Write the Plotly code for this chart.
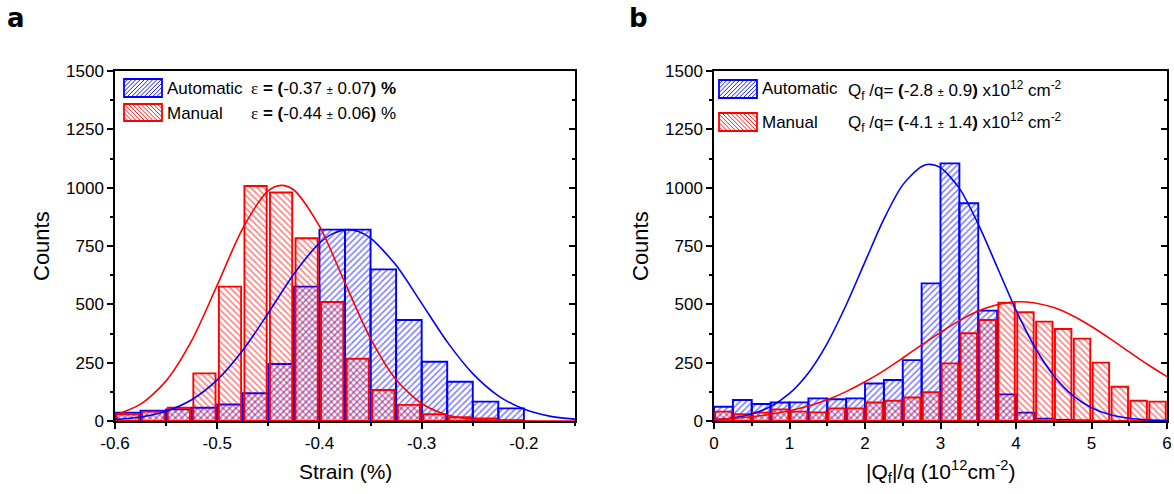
import plotly.graph_objects as go

# ---------------- data ----------------
# panel a : strain histograms (bin width 0.025 %)
strain_centers = [-0.5875, -0.5625, -0.5375, -0.5125, -0.4875, -0.4625, -0.4375, -0.4125,
                  -0.3875, -0.3625, -0.3375, -0.3125, -0.2875, -0.2625, -0.2375, -0.2125]
strain_auto = [36, 44, 50, 57, 71, 119, 244, 576, 820, 820, 650, 433, 254, 168, 83, 54]
strain_manual = [29, 40, 57, 204, 576, 1007, 979, 783, 510, 267, 133, 69, 29, 16, 11, 4]

# gaussian fit curves
strain_fit_auto_x = [-0.6, -0.575, -0.55, -0.525, -0.5, -0.475, -0.45, -0.425, -0.4, -0.3875,
                     -0.372, -0.3625, -0.35, -0.325, -0.3, -0.275, -0.25, -0.225, -0.2, -0.175, -0.15]
strain_fit_auto_y = [6, 17, 42, 91, 176, 303, 463, 630, 762, 802,
                     820, 813, 784, 667, 504, 339, 203, 108, 51, 21, 8]
strain_fit_manual_x = [-0.6, -0.575, -0.55, -0.525, -0.5, -0.475, -0.45, -0.4375, -0.425, -0.4,
                       -0.375, -0.35, -0.325, -0.3, -0.275, -0.25, -0.225, -0.2, -0.175, -0.15]
strain_fit_manual_y = [25, 72, 172, 344, 582, 826, 987, 1010, 990, 835,
                       592, 353, 177, 75, 26, 8, 2, 0.4, 0, 0]

# panel b : fixed charge histograms (bin width 0.25 x10^12 cm^-2)
q_centers = [0.125, 0.375, 0.625, 0.875, 1.125, 1.375, 1.625, 1.875, 2.125, 2.375, 2.625, 2.875,
             3.125, 3.375, 3.625, 3.875, 4.125, 4.375, 4.625, 4.875, 5.125, 5.375, 5.625, 5.875]
q_auto = [61, 90, 73, 79, 80, 97, 93, 97, 161, 176, 261, 590,
          1104, 933, 473, 114, 36, 10, 5, 3, None, None, None, None]
q_manual = [40, 29, 36, 50, 40, 37, 54, 54, 79, 87, 101, 123,
            247, 376, 433, 507, 466, 426, 394, 353, 250, 147, 87, 83]

q_fit_auto_x = [0, 0.25, 0.5, 0.75, 1.0, 1.25, 1.5, 1.75, 2.0, 2.25, 2.5, 2.75, 2.86,
                3.0, 3.25, 3.5, 3.75, 4.0, 4.25, 4.5, 4.75, 5.0, 5.25, 5.5, 5.75, 6.0]
q_fit_auto_y = [6, 13, 30, 62, 118, 206, 333, 497, 682, 865, 1012, 1091, 1100,
                1086, 997, 844, 660, 475, 316, 194, 110, 57, 27, 12, 5, 2]
q_fit_manual_x = [0, 0.25, 0.5, 0.75, 1.0, 1.25, 1.5, 1.75, 2.0, 2.25, 2.5, 2.75, 3.0,
                  3.25, 3.5, 3.75, 4.0, 4.25, 4.5, 4.75, 5.0, 5.25, 5.5, 5.75, 6.0]
q_fit_manual_y = [7, 11, 18, 29, 44, 64, 91, 126, 168, 216, 270, 326, 380,
                  430, 471, 498, 511, 506, 486, 451, 405, 352, 296, 241, 190]

strain_tickvals = [-0.6, -0.5, -0.4, -0.3, -0.2]
strain_ticktext = ["-0.6", "-0.5", "-0.4", "-0.3", "-0.2"]
q_tickvals = [0, 1, 2, 3, 4, 5, 6]
count_tickvals = [0, 250, 500, 750, 1000, 1250, 1500]

# ---------------- style ----------------
W, H = 1174, 494
FONT = "Liberation Sans, Arial, sans-serif"
BLUE = "#0000ff"
RED = "#ff0000"
CLEAR = "rgba(0,0,0,0)"
BIN_L = 0.025
BIN_R = 0.25
RED_FRAC = 0.87


def fx(p):
    return p / W


def fy(p):
    return 1 - p / H


def bar(x, y, width, color, shape, xa, ya):
    return go.Bar(
        x=x, y=y, width=width, xaxis=xa, yaxis=ya, showlegend=False, hoverinfo="skip",
        marker=dict(color=CLEAR, line=dict(color=color, width=1.9),
                    pattern=dict(shape=shape, fgcolor=color, bgcolor=CLEAR,
                                 size=4.5, solidity=0.35, fillmode="overlay")))


def curve(x, y, color, xa, ya):
    return go.Scatter(x=x, y=y, mode="lines", xaxis=xa, yaxis=ya, showlegend=False,
                      hoverinfo="skip", line=dict(color=color, width=1.6, shape="spline", smoothing=0.8))


fig = go.Figure()
fig.add_trace(bar(strain_centers, strain_auto, BIN_L, BLUE, "/", "x", "y"))
fig.add_trace(bar(strain_centers, strain_manual, BIN_L * RED_FRAC, RED, "\\", "x", "y"))
fig.add_trace(curve(strain_fit_auto_x, strain_fit_auto_y, BLUE, "x", "y"))
fig.add_trace(curve(strain_fit_manual_x, strain_fit_manual_y, RED, "x", "y"))

fig.add_trace(bar(q_centers, q_auto, BIN_R, BLUE, "/", "x2", "y2"))
fig.add_trace(bar(q_centers, q_manual, BIN_R * RED_FRAC, RED, "\\", "x2", "y2"))
fig.add_trace(curve(q_fit_auto_x, q_fit_auto_y, BLUE, "x2", "y2"))
fig.add_trace(curve(q_fit_manual_x, q_fit_manual_y, RED, "x2", "y2"))

# dummy traces so that the right-hand tick axes are drawn
fig.add_trace(go.Scatter(x=[None], y=[None], xaxis="x", yaxis="y3", showlegend=False, hoverinfo="skip"))
fig.add_trace(go.Scatter(x=[None], y=[None], xaxis="x2", yaxis="y4", showlegend=False, hoverinfo="skip"))

tickfont = dict(family=FONT, size=17, color="black")
common_x = dict(showgrid=False, zeroline=False, showline=True, linecolor="black", linewidth=1.5,
                mirror=True, ticks="outside", ticklen=6, tickwidth=1.5, tickcolor="black",
                tickfont=tickfont, automargin=False)
common_y = dict(showgrid=False, zeroline=False, showline=True, linecolor="black", linewidth=1.5,
                mirror=True, ticks="outside", ticklen=6, tickwidth=1.5, tickcolor="black",
                tickfont=tickfont, range=[0, 1500], tickmode="array", tickvals=count_tickvals,
                automargin=False,
                minor=dict(tickmode="linear", tick0=0, dtick=125, ticks="outside", ticklen=3,
                           tickwidth=1.5, tickcolor="black"))
right_y = dict(showgrid=False, zeroline=False, showline=False, side="right", range=[0, 1500],
               ticks="inside", ticklen=6, tickwidth=1.5, tickcolor="black", showticklabels=False,
               tickmode="array", tickvals=count_tickvals, automargin=False,
               minor=dict(tickmode="linear", tick0=0, dtick=125, ticks="inside", ticklen=3,
                          tickwidth=1.5, tickcolor="black"))

Y0, Y1 = fy(421), fy(71)
fig.update_layout(
    template="none",
    width=W, height=H, margin=dict(l=0, r=0, t=0, b=0, pad=0, autoexpand=False),
    paper_bgcolor="white", plot_bgcolor="white", barmode="overlay", showlegend=False,
    xaxis=dict(domain=[fx(115), fx(575)], range=[-0.6, -0.15], tickmode="array",
               tickvals=strain_tickvals, ticktext=strain_ticktext,
               minor=dict(tickmode="linear", tick0=-0.6, dtick=0.05, ticks="outside", ticklen=3,
                          tickwidth=1.5, tickcolor="black"),
               anchor="y", **common_x),
    yaxis=dict(domain=[Y0, Y1], anchor="x", **common_y),
    xaxis2=dict(domain=[fx(714), fx(1167)], range=[0, 6], tickmode="array", tickvals=q_tickvals,
                minor=dict(tickmode="linear", tick0=0, dtick=0.5, ticks="outside", ticklen=3,
                           tickwidth=1.5, tickcolor="black"),
                anchor="y2", **common_x),
    yaxis2=dict(domain=[Y0, Y1], anchor="x2", **common_y),
    yaxis3=dict(overlaying="y", anchor="x", **right_y),
    yaxis4=dict(overlaying="y2", anchor="x2", **right_y),
)

# ---------------- legend swatches (hatched boxes) ----------------
shapes = []


def swatch(x0, y0, x1, y1, color, direction, step=4.2):
    h = y1 - y0
    segs = []
    x = x0 - h
    while x < x1:
        t0 = max(0, x0 - x)
        t1 = min(h, x1 - x)
        if t1 > t0:
            if direction == "/":
                a = (x + t0, y1 - t0)
                b = (x + t1, y1 - t1)
            else:
                a = (x + t0, y0 + t0)
                b = (x + t1, y0 + t1)
            segs.append("M%.5f,%.5f L%.5f,%.5f" % (fx(a[0]), fy(a[1]), fx(b[0]), fy(b[1])))
        x += step
    shapes.append(dict(type="path", xref="paper", yref="paper", path=" ".join(segs),
                       line=dict(color=color, width=0.9)))
    shapes.append(dict(type="rect", xref="paper", yref="paper", x0=fx(x0), x1=fx(x1),
                       y0=fy(y1), y1=fy(y0), line=dict(color=color, width=1.8),
                       fillcolor=CLEAR))


swatch(124, 79, 162, 97, BLUE, "/")
swatch(124, 104, 162, 121, RED, "\\")
swatch(719, 80, 757, 98, BLUE, "/")
swatch(719, 113, 757, 131, RED, "\\")
fig.update_layout(shapes=shapes)

ann = []


def text(x, y, s, size=17, xanchor="left", angle=0, family=FONT):
    ann.append(dict(x=fx(x), y=fy(y), xref="paper", yref="paper", text=s, showarrow=False,
                    xanchor=xanchor, yanchor="middle", textangle=angle,
                    font=dict(family=family, size=size, color="black")))


PM = "<span style='font-size:11px'>±</span>"
EPS = "<span style='font-family:Liberation Serif, Times New Roman, serif'>ε</span>"
text(165, 88, "Automatic")
text(165, 113, "Manual")
text(249, 88, EPS + " <b>=</b> <b>(</b>-0.37 " + PM + " 0.07<b>)</b> <b>%</b>")
text(249, 113, EPS + " <b>=</b> <b>(</b>-0.44 " + PM + " 0.06<b>)</b> %")

text(760, 89, "Automatic")
text(760, 122, "Manual")
text(846, 90, "Q<sub>f</sub> /q= <b>(</b>-2.8 " + PM + " 0.9<b>)</b> x10<sup>12</sup> cm<sup>-2</sup>")
text(846, 123, "Q<sub>f</sub> /q= <b>(</b>-4.1 " + PM + " 1.4<b>)</b> x10<sup>12</sup> cm<sup>-2</sup>")

# axis titles
text(345, 471, "Strain (%)", size=21, xanchor="center")
text(940, 471, "|Q<sub>f</sub>|/q (10<sup>12</sup>cm<sup>-2</sup>)", size=21, xanchor="center")
text(42, 246, "Counts", size=22, xanchor="center", angle=-90)
text(641, 246, "Counts", size=22, xanchor="center", angle=-90)

# panel letters
text(5, 18, "<b>a</b>", size=26, family="DejaVu Sans, sans-serif")
text(627, 18, "<b>b</b>", size=26, family="DejaVu Sans, sans-serif")

fig.update_layout(annotations=ann)
fig.write_html("out.html", config={"displayModeBar": False},
               post_script="document.body.style.margin='0px';")
